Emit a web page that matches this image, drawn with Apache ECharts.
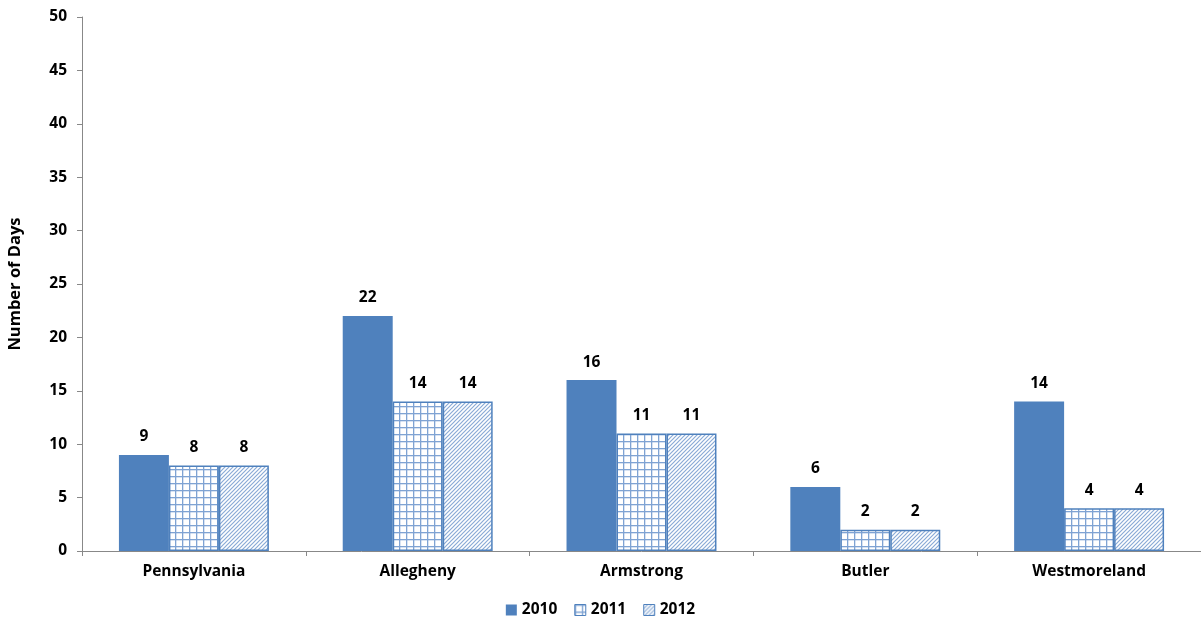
<!DOCTYPE html>
<html><head><meta charset="utf-8">
<script src="https://cdn.jsdelivr.net/npm/echarts@6/dist/echarts.min.js"></script>
<style>html,body{margin:0;padding:0;background:#fff}#c{width:1201px;height:620px}</style>
</head><body><div id="c"></div>
<script>
const categories = ['Pennsylvania','Allegheny','Armstrong','Butler','Westmoreland'];
const years = ['2010','2011','2012'];
const v2010 = [9,22,16,6,14];
const v2011 = [8,14,11,2,4];
const v2012 = [8,14,11,2,4];
const yTicks = {min:0,max:50,interval:5};

const blue = '#4F81BD';
function gridPattern(){
  const c = document.createElement('canvas'); c.width = 7; c.height = 7;
  const g = c.getContext('2d');
  g.fillStyle = '#fff'; g.fillRect(0,0,7,7);
  g.fillStyle = '#7FA3D3'; g.fillRect(0,0,7,1.3); g.fillRect(0,0,1.3,7);
  return c;
}
function hatchPattern(){
  const c = document.createElement('canvas'); c.width = 4; c.height = 4;
  const g = c.getContext('2d');
  g.fillStyle = '#fff'; g.fillRect(0,0,4,4);
  g.strokeStyle = '#8AAAD6'; g.lineWidth = 1.2;
  g.beginPath(); g.moveTo(-1,5); g.lineTo(5,-1); g.moveTo(-1,1); g.lineTo(1,-1); g.moveTo(3,5); g.lineTo(5,3); g.stroke();
  return c;
}
const fills = [blue, {image: gridPattern(), repeat:'repeat'}, {image: hatchPattern(), repeat:'repeat'}];
const data = [v2010, v2011, v2012];
const font = '"Open Sans", Lato, sans-serif';
const fs = 15.5;

const chart = echarts.init(document.getElementById('c'));
chart.setOption({
  animation:false,
  textStyle:{fontFamily:font},
  grid:{left:82,right:0,top:17,bottom:69,containLabel:false,outerBoundsMode:'none'},
  legend:{
    top:597, left:'center', itemWidth:11, itemHeight:11, itemGap:17,
    textStyle:{fontFamily:font,fontWeight:'bold',fontSize:fs,color:'#000'},
    data: years.map((y,i)=>({name:y, icon:'rect', itemStyle:{color:fills[i], borderColor:blue, borderWidth: i?1:0}}))
  },
  xAxis:{
    type:'category', data:categories,
    axisLine:{lineStyle:{color:'#888'}},
    axisTick:{show:true,length:5,lineStyle:{color:'#888'}},
    axisLabel:{fontFamily:font,fontWeight:'bold',fontSize:fs,color:'#000',margin:13}
  },
  yAxis:{
    type:'value', min:yTicks.min, max:yTicks.max, interval:yTicks.interval,
    name:'Number of Days', nameLocation:'middle', nameGap:58, nameRotate:90,
    nameTextStyle:{fontFamily:font,fontWeight:'bold',fontSize:16.5,color:'#000'},
    axisLine:{show:true,lineStyle:{color:'#888'}},
    axisTick:{show:true,length:5,lineStyle:{color:'#888'}},
    splitLine:{show:false},
    axisLabel:{fontFamily:font,fontWeight:'bold',fontSize:fs,color:'#000',margin:15}
  },
  series: years.map((y,i)=>({
    name:y, type:'bar', data:data[i],
    barGap:'0%', barCategoryGap:'33%',
    itemStyle:{color:fills[i], borderColor:blue, borderWidth: i?1.5:0},
    label:{show:true,position:'top',distance:10,fontFamily:font,fontWeight:'bold',fontSize:fs,color:'#000'}
  }))
});
</script></body></html>
